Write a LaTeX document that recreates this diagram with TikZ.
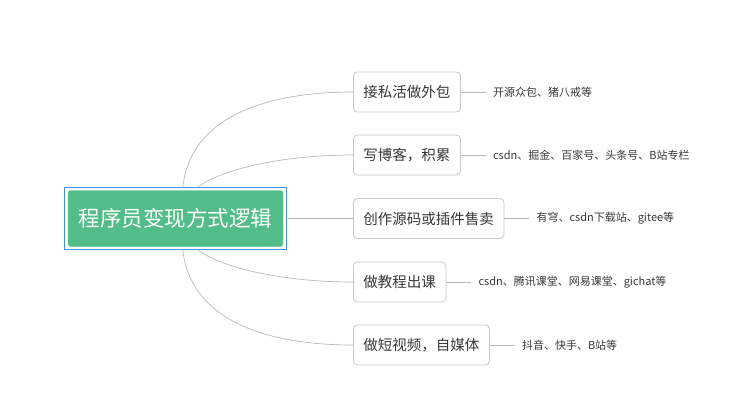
\documentclass[tikz,border=0pt]{standalone}
\usepackage{fontspec}
\setmainfont{Noto Sans CJK SC}
\usetikzlibrary{positioning}
\definecolor{rootgreen}{RGB}{82,189,136}
\definecolor{selblue}{RGB}{74,144,226}
\definecolor{linegray}{RGB}{185,185,185}
\definecolor{boxgray}{RGB}{200,200,200}
\definecolor{txtgray}{RGB}{55,55,55}
\tikzset{
  rootbox/.style={fill=rootgreen, draw=rootgreen, rounded corners=3pt, text=white,
    minimum width=215pt, minimum height=56pt, inner sep=0pt,
    font=\fontsize{21.5pt}{24pt}\selectfont},
  topicbox/.style={draw=boxgray, line width=0.8pt, rounded corners=4pt, fill=white,
    text=txtgray, anchor=west, minimum height=40pt, inner xsep=10pt, inner ysep=0pt,
    font=\fontsize{14.5pt}{17pt}\selectfont},
  leaftext/.style={text=txtgray, inner xsep=7pt, inner ysep=0pt,
    font=\fontsize{11pt}{13pt}\selectfont},
  conn/.style={draw=linegray, line width=0.7pt},
}
\begin{document}
\begin{tikzpicture}[x=1pt,y=-1pt]
\useasboundingbox (0,0) rectangle (732,404);
% topics
\node[topicbox] (b1) at (353,92) {接私活做外包};
\node[topicbox] (b2) at (353,155) {写博客，积累};
\node[topicbox] (b3) at (353,218.5) {创作源码或插件售卖};
\node[topicbox] (b4) at (353,282) {做教程出课};
\node[topicbox] (b5) at (353,345) {做短视频，自媒体};
% leaves
\node[leaftext, right=25pt of b1] (l1) {开源众包、猪八戒等};
\node[leaftext, right=25pt of b2] (l2) {csdn、掘金、百家号、头条号、B站专栏};
\node[leaftext, right=25pt of b3] (l3) {有穹、csdn下载站、gitee等};
\node[leaftext, right=25pt of b4] (l4) {csdn、腾讯课堂、网易课堂、gichat等};
\node[leaftext, right=25pt of b5] (l5) {抖音、快手、B站等};
\foreach \i in {1,...,5} \draw[conn] (b\i.east) -- (l\i.west);
% root
\node[rootbox] (root) at (175.5,218.5) {程序员变现方式逻辑};
\draw[selblue, line width=0.9pt] ([xshift=-3pt,yshift=3pt]root.north west) rectangle ([xshift=3pt,yshift=-3pt]root.south east);
\coordinate (r1) at ([xshift=115pt,yshift=3pt]root.north west);
\coordinate (r2) at ([xshift=130pt,yshift=3pt]root.north west);
\coordinate (r4) at ([xshift=130pt,yshift=-3pt]root.south west);
\coordinate (r5) at ([xshift=115pt,yshift=-3pt]root.south west);
% connectors
\draw[conn] (r1) .. controls (190,120) and (260,92) .. (b1.west);
\draw[conn] (r2) .. controls (220,170) and (280,155) .. (b2.west);
\draw[conn] ([xshift=3pt]root.east) -- (b3.west);
\draw[conn] (r4) .. controls (220,267) and (280,282) .. (b4.west);
\draw[conn] (r5) .. controls (190,317) and (260,345) .. (b5.west);
\end{tikzpicture}
\end{document}
